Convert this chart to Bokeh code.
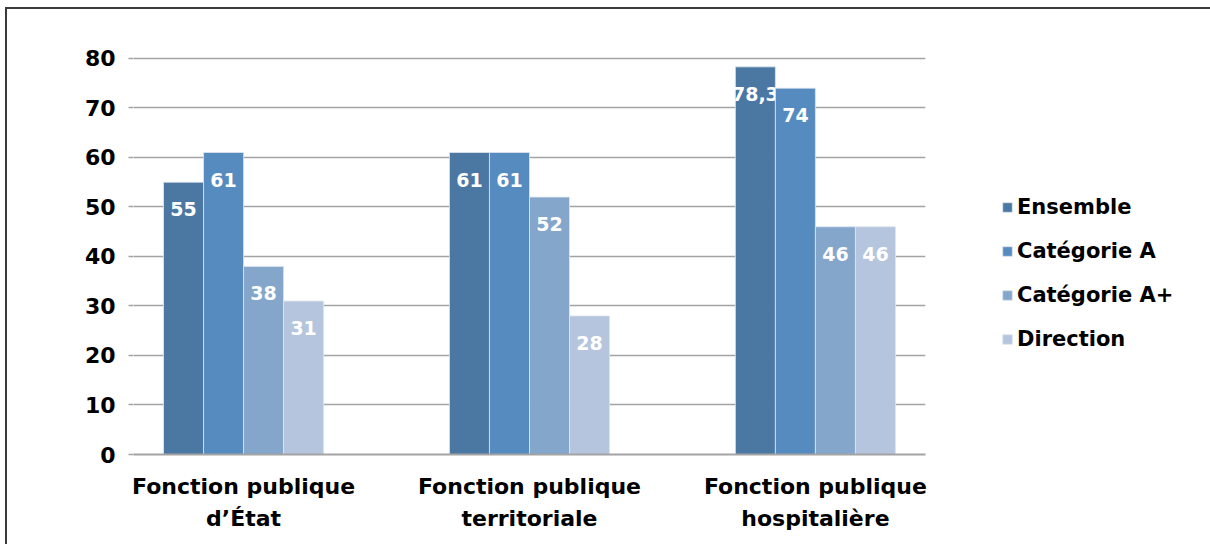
from bokeh.plotting import figure
from bokeh.models import (ColumnDataSource, FactorRange, Range1d, Legend, LegendItem,
                          FixedTicker)
from bokeh.transform import dodge
from bokeh.core.properties import value
from bokeh.embed import file_html
from bokeh.resources import INLINE

categories = ["Fonction publique\nd’État", "Fonction publique\nterritoriale",
              "Fonction publique\nhospitalière"]
series_names = ["Ensemble", "Catégorie A", "Catégorie A+", "Direction"]
ensemble = [55, 61, 78.3]
categorie_a = [61, 61, 74]
categorie_a_plus = [38, 52, 46]
direction = [31, 28, 46]
y_ticks = [0, 10, 20, 30, 40, 50, 60, 70, 80]

colors = ["#4b78a3", "#558bbf", "#84a6cb", "#b4c5dd"]
series = [ensemble, categorie_a, categorie_a_plus, direction]
keys = ["s0", "s1", "s2", "s3"]


def fmt(v):
    s = ("%.1f" % v).rstrip("0").rstrip(".")
    return s.replace(".", ",")


data = {"cat": categories}
for k, vals in zip(keys, series):
    data[k] = vals
    data[k + "_lbl"] = [fmt(v) for v in vals]
src = ColumnDataSource(data)

FONT = "DejaVu Sans"

p = figure(x_range=FactorRange(factors=categories, range_padding=-0.115,
                               range_padding_units="absolute"),
           y_range=Range1d(0, 81),
           frame_width=792, frame_height=401,
           min_border_left=126, min_border_right=283,
           min_border_top=44, min_border_bottom=90,
           output_backend="svg", toolbar_location=None)
p.margin = (7, 0, 0, 5)
p.styles = {"border-top": "2px solid #3a3a3a", "border-left": "2px solid #3a3a3a"}
p.outline_line_color = None
p.xgrid.grid_line_color = None
p.ygrid.grid_line_color = "#a3a3a3"
p.ygrid.grid_line_width = 1.5
p.ygrid.ticker = FixedTicker(ticks=y_ticks)

offsets = [-0.21, -0.07, 0.07, 0.21]
bw = 0.14
items = []
for k, name, col, off in zip(keys, series_names, colors, offsets):
    r = p.vbar(x=dodge("cat", off, range=p.x_range), top=k, width=bw, source=src,
               fill_color=col, line_color="#dfe6ef", line_width=0.8)
    items.append(LegendItem(label=name, renderers=[r]))
    p.text(x=dodge("cat", off, range=p.x_range), y=k, text=k + "_lbl", source=src,
           text_align="center", text_baseline="middle", y_offset=27,
           text_color="white", text_font=value(FONT), text_font_style="bold",
           text_font_size="19px")

# axes
p.yaxis.ticker = FixedTicker(ticks=y_ticks)
p.yaxis.axis_line_color = None
p.yaxis.major_tick_line_color = "#a3a3a3"
p.yaxis.major_tick_line_width = 1.5
p.yaxis.major_tick_out = 5
p.yaxis.major_tick_in = 0
p.yaxis.minor_tick_line_color = None
p.yaxis.major_label_standoff = 13
p.yaxis.major_label_text_font = FONT
p.yaxis.major_label_text_font_style = "bold"
p.yaxis.major_label_text_font_size = "22px"
p.yaxis.major_label_text_color = "black"

p.xaxis.axis_line_color = "#a3a3a3"
p.xaxis.axis_line_width = 2
p.xaxis.major_tick_line_color = None
p.xaxis.major_label_standoff = 13
p.xaxis.major_label_text_font = FONT
p.xaxis.major_label_text_font_style = "bold"
p.xaxis.major_label_text_font_size = "22px"
p.xaxis.major_label_text_color = "black"
p.xaxis.major_label_text_line_height = 1.3

legend = Legend(items=items, location=(76, 103), orientation="vertical",
                padding=0, margin=0, spacing=19, label_height=25,
                glyph_width=12, glyph_height=12, label_standoff=4,
                border_line_color=None, background_fill_alpha=0,
                label_text_font=FONT, label_text_font_style="bold",
                label_text_font_size="21px", label_text_color="black")
p.add_layout(legend, "right")

open("out.html", "w").write(file_html(p, INLINE))
